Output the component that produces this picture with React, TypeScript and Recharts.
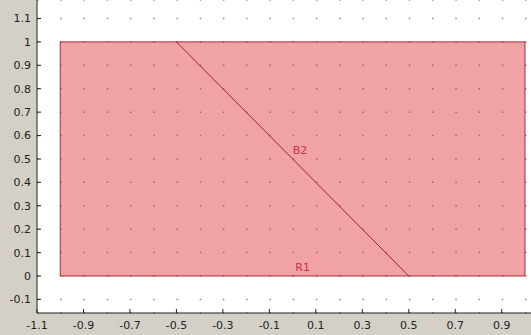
import React from 'react'
import { ComposedChart, XAxis, YAxis, CartesianGrid, ReferenceArea, Scatter } from 'recharts'

// axes
const xTicks = [-1.1, -0.9, -0.7, -0.5, -0.3, -0.1, 0.1, 0.3, 0.5, 0.7, 0.9]
const yTicks = [-0.1, 0, 0.1, 0.2, 0.3, 0.4, 0.5, 0.6, 0.7, 0.8, 0.9, 1, 1.1]
const xDomain = [-1.1, 1.026]
const yDomain = [-0.158, 1.179]

// rectangle R1
const rectX = [-1, 1]
const rectY = [0, 1]

// boundary B2
const boundaryX = [-0.5, 0.5]
const boundaryY = [1, 0]

// labels
const labelNames = ['B2', 'R1']
const labelX = [0.032, 0.043]
const labelY = [0.534, 0.038]

const boundary = boundaryX.map((x, i) => ({ x, y: boundaryY[i] }))
const labels = labelNames.map((name, i) => ({ name, x: labelX[i], y: labelY[i] }))

const font = 'DejaVu Sans, Verdana, sans-serif'
const tickStyle = { fontSize: 11, fill: '#222', fontFamily: font }

const LabelShape = (p: any) => (
    <text x={p.cx} y={p.cy} textAnchor="middle" dominantBaseline="central"
        fill="#d0303e" fontSize={11} fontFamily={font}>
        {p.payload.name}
    </text>
)

export default function App() {
    return (
        <div style={{ position: 'absolute', left: 0, top: 0, width: 531, height: 335, background: '#d4d0c8' }}>
            <ComposedChart width={531} height={335} margin={{ top: 0, right: 0, bottom: 0, left: 0 }}>
                <CartesianGrid vertical={false} fill="#fff" fillOpacity={1} stroke="#8a8a8a"
                    strokeWidth={1.5} strokeDasharray="1.5 21.74" />
                <XAxis type="number" dataKey="x" domain={xDomain} ticks={xTicks} interval={0}
                    allowDataOverflow height={22} tickSize={-4} tickMargin={12}
                    tick={tickStyle} stroke="#222" />
                <YAxis type="number" dataKey="y" domain={yDomain} ticks={yTicks} interval={0}
                    allowDataOverflow width={37} tickSize={-4} tickMargin={10}
                    tick={tickStyle} stroke="#222" />
                <ReferenceArea x1={rectX[0]} x2={rectX[1]} y1={rectY[0]} y2={rectY[1]}
                    fill="#e0303c" fillOpacity={0.45} stroke="#b3262e" strokeWidth={1} strokeOpacity={1} />
                <Scatter data={boundary} line={{ stroke: '#b01c28', strokeWidth: 1 }}
                    shape={() => <g />} isAnimationActive={false} />
                <Scatter data={labels} shape={LabelShape} isAnimationActive={false} />
            </ComposedChart>
        </div>
    )
}
